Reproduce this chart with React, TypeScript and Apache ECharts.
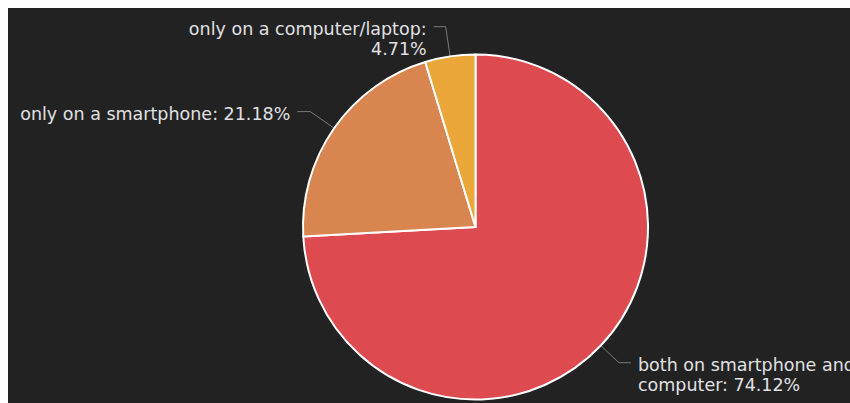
import React, { useEffect, useRef } from "react";
import * as echarts from "echarts";

const categories = [
  "both on smartphone and computer",
  "only on a smartphone",
  "only on a computer/laptop",
];
const counts = [63, 18, 4];
const colors = ["#dd4b51", "#d8854f", "#eba63a"];

const LH = 20;

function wrap(text: string, maxChars: number): string[] {
  const words = text.split(" ");
  const lines: string[] = [];
  let cur = "";
  for (const w of words) {
    const next = cur ? cur + " " + w : w;
    if (next.length > maxChars && cur) {
      lines.push(cur);
      cur = w;
    } else {
      cur = next;
    }
  }
  if (cur) lines.push(cur);
  return lines;
}

export default function App() {
  const ref = useRef<HTMLDivElement>(null);
  useEffect(() => {
    document.documentElement.style.overflow = "hidden";
    const chart = echarts.init(ref.current!, undefined, { renderer: "svg" });
    const total = counts.reduce((a, b) => a + b, 0);
    const maxChars = [24, 40, 26];
    const lineLens = [
      { length: 25, length2: 12 },
      { length: 29, length2: 13 },
      { length: 30, length2: 12 },
    ];
    chart.setOption({
      animation: false,
      backgroundColor: "#222222",
      series: [
        {
          type: "pie",
          center: [467.5, 219],
          radius: 172.5,
          startAngle: 90,
          clockwise: true,
          avoidLabelOverlap: false,
          itemStyle: { borderColor: "#ffffff", borderWidth: 2 },
          label: {
            color: "#e0e0e3",
            fontFamily: "DejaVu Sans",
            fontSize: 17.5,
            lineHeight: LH,
            distanceToLabelLine: 7,
            formatter: (p: any) => {
              const txt = `${p.name}: ${((p.value / total) * 100).toFixed(2)}%`;
              const lines = wrap(txt, maxChars[p.dataIndex]);
              const gap = lines.length > 1 ? "{g2| }" : "{g1| }";
              return [gap, ...lines.map((l) => `{t|${l}}`)].join("\n");
            },
            rich: {
              t: {
                color: "#e0e0e3",
                fontFamily: "DejaVu Sans",
                fontSize: 17.5,
                lineHeight: LH,
              },
              g1: { fontSize: 2, lineHeight: 4 },
              g2: { fontSize: 2, lineHeight: LH + 4 },
            },
          },
          labelLine: {
            lineStyle: { color: "#7a7a7a", width: 1 },
          },
          data: categories.map((name, i) => ({
            name,
            value: counts[i],
            itemStyle: { color: colors[i] },
            labelLine: lineLens[i],
          })),
        },
      ],
    });
    return () => chart.dispose();
  }, []);
  return (
    <div
      ref={ref}
      style={{ position: "fixed", left: 8, top: 8, width: 920, height: 395 }}
    />
  );
}
